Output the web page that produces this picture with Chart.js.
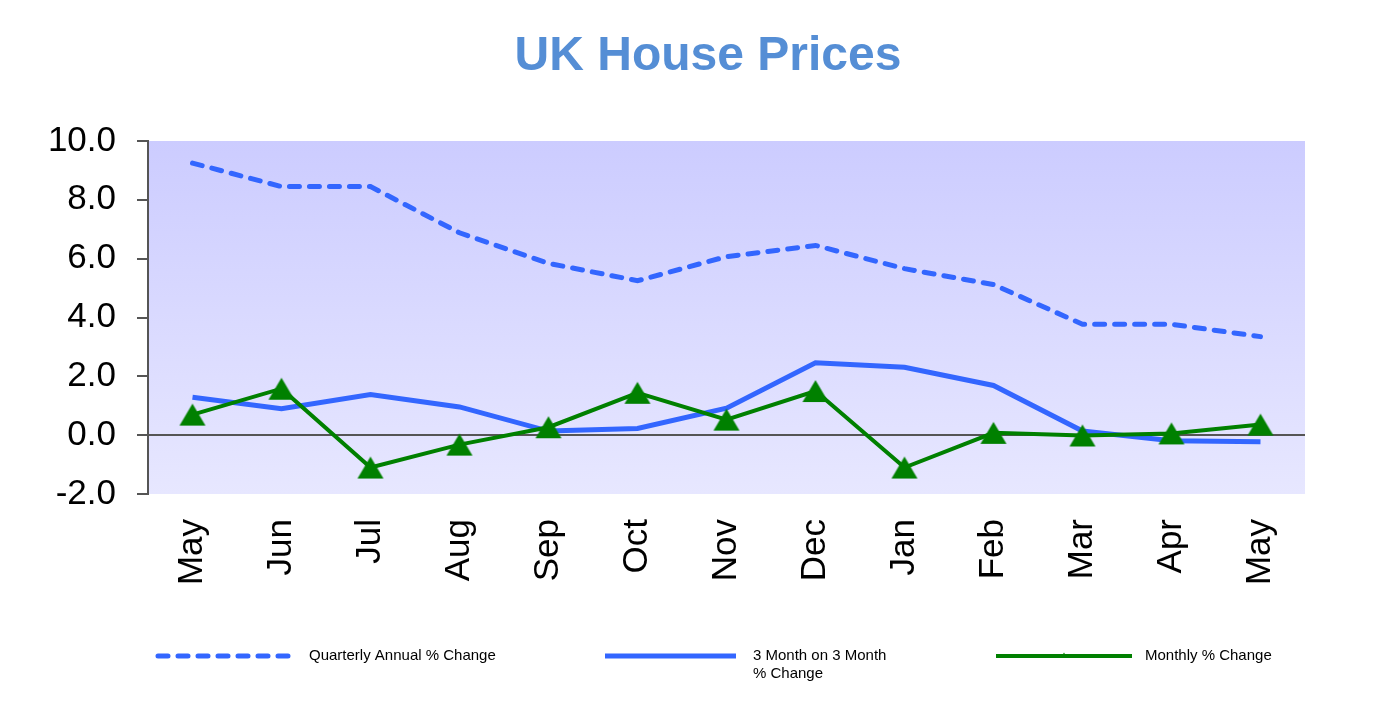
<!DOCTYPE html>
<html>
<head>
<meta charset="utf-8">
<script src="https://cdn.jsdelivr.net/npm/chart.js@4.4.1/dist/chart.umd.min.js"></script>
<style>
  html, body { margin: 0; padding: 0; background: #ffffff; }
  #wrap { width: 1396px; height: 717px; }
</style>
</head>
<body>
<div id="wrap"><canvas id="c" width="1396" height="717"></canvas></div>
<script>
const categories = ['May','Jun','Jul','Aug','Sep','Oct','Nov','Dec','Jan','Feb','Mar','Apr','May'];
const quarterlyAnnual = [9.25, 8.45, 8.45, 6.88, 5.84, 5.25, 6.07, 6.45, 5.66, 5.12, 3.77, 3.77, 3.35];
const threeMonth = [1.29, 0.90, 1.38, 0.96, 0.14, 0.23, 0.92, 2.46, 2.31, 1.69, 0.14, -0.19, -0.22];
const monthly = [0.70, 1.58, -1.10, -0.32, 0.27, 1.44, 0.53, 1.50, -1.10, 0.08, -0.01, 0.06, 0.36];
const yTicks = [-2, 0, 2, 4, 6, 8, 10];
const titleText = 'UK House Prices';
const legendLabels = [['Quarterly Annual % Change'], ['3 Month on 3 Month', '% Change'], ['Monthly % Change']];

const BLUE = '#3366FF';
const GREEN = '#008000';
const FONT = '"Liberation Sans", Arial, sans-serif';

// triangle marker image, centred at mid-height
const tri = document.createElement('canvas');
tri.width = 28; tri.height = 26;
(function () {
  const t = tri.getContext('2d');
  t.fillStyle = GREEN;
  t.beginPath();
  t.moveTo(14, 2);
  t.lineTo(27, 24);
  t.lineTo(1, 24);
  t.closePath();
  t.fill();
})();

const bgPlugin = {
  id: 'bgPlugin',
  beforeDraw(chart) {
    const { ctx, chartArea: a } = chart;
    const g = ctx.createLinearGradient(0, a.top, 0, a.bottom);
    g.addColorStop(0, '#CCCCFF');
    g.addColorStop(1, '#E7E7FF');
    ctx.save();
    ctx.fillStyle = g;
    ctx.fillRect(a.left, a.top, a.right - a.left, a.bottom - a.top);
    ctx.restore();
  }
};

const decoPlugin = {
  id: 'decoPlugin',
  afterDraw(chart) {
    const ctx = chart.ctx;
    ctx.save();
    ctx.fillStyle = '#558ED5';
    ctx.font = 'bold 48px ' + FONT;
    ctx.textAlign = 'center';
    ctx.textBaseline = 'alphabetic';
    ctx.fillText(titleText, 708, 70);

    const items = [
      { x0: 158, x1: 296, tx: 309 },
      { x0: 605, x1: 736, tx: 753 },
      { x0: 996, x1: 1132, tx: 1145 }
    ];
    const y = 656;
    chart.data.datasets.forEach((ds, i) => {
      const it = items[i];
      ctx.beginPath();
      ctx.strokeStyle = ds.borderColor;
      ctx.lineWidth = ds.borderWidth;
      ctx.lineCap = ds.borderCapStyle || 'butt';
      ctx.setLineDash(ds.borderDash || []);
      ctx.moveTo(it.x0, y);
      ctx.lineTo(it.x1, y);
      ctx.stroke();
      ctx.setLineDash([]);
      if (ds.pointStyle === tri) {
        const cx = (it.x0 + it.x1) / 2, r = 3.5;
        ctx.beginPath();
        ctx.fillStyle = GREEN;
        ctx.moveTo(cx, y - r);
        ctx.lineTo(cx + r * 0.866, y + r * 0.5);
        ctx.lineTo(cx - r * 0.866, y + r * 0.5);
        ctx.closePath();
        ctx.fill();
      }
      ctx.fillStyle = '#000000';
      ctx.font = '15px ' + FONT;
      ctx.textAlign = 'left';
      ctx.textBaseline = 'middle';
      legendLabels[i].forEach((t, k) => ctx.fillText(t, it.tx, y + k * 18));
    });
    ctx.restore();
  }
};

new Chart(document.getElementById('c'), {
  type: 'line',
  data: {
    labels: categories,
    datasets: [
      {
        label: legendLabels[0].join(' '),
        data: quarterlyAnnual,
        borderColor: BLUE,
        borderWidth: 5,
        borderDash: [10, 10],
        borderCapStyle: 'round',
        pointRadius: 0,
        tension: 0,
        order: 3
      },
      {
        label: legendLabels[1].join(' '),
        data: threeMonth,
        borderColor: BLUE,
        borderWidth: 5,
        pointRadius: 0,
        tension: 0,
        order: 2
      },
      {
        label: legendLabels[2].join(' '),
        data: monthly,
        borderColor: GREEN,
        borderWidth: 4,
        pointStyle: tri,
        pointRadius: 13,
        tension: 0,
        order: 1
      }
    ]
  },
  options: {
    responsive: false,
    animation: false,
    devicePixelRatio: 1,
    layout: { padding: { top: 141, right: 91, left: 0, bottom: 0 } },
    plugins: {
      legend: { display: false },
      title: { display: false },
      tooltip: { enabled: false }
    },
    scales: {
      x: {
        type: 'category',
        offset: true,
        grid: { display: false },
        border: { display: false },
        ticks: {
          minRotation: 90,
          maxRotation: 90,
          autoSkip: false,
          padding: 17,
          color: '#000000',
          font: { family: FONT, size: 35 }
        },
        afterFit(scale) { scale.height = 223; }
      },
      y: {
        min: -2,
        max: 10,
        afterBuildTicks(scale) { scale.ticks = yTicks.map(v => ({ value: v })); },
        grid: {
          drawOnChartArea: true,
          color: (c) => (c.tick && c.tick.value === 0 ? '#555555' : 'rgba(0,0,0,0)'),
          lineWidth: 2,
          tickColor: '#555555',
          tickLength: 11
        },
        border: { display: true, color: '#555555', width: 2 },
        ticks: {
          padding: 21,
          color: '#000000',
          font: { family: FONT, size: 35 },
          callback: (v) => Number(v).toFixed(1)
        },
        afterFit(scale) { scale.width = 148; }
      }
    }
  },
  plugins: [bgPlugin, decoPlugin]
});
</script>
</body>
</html>
